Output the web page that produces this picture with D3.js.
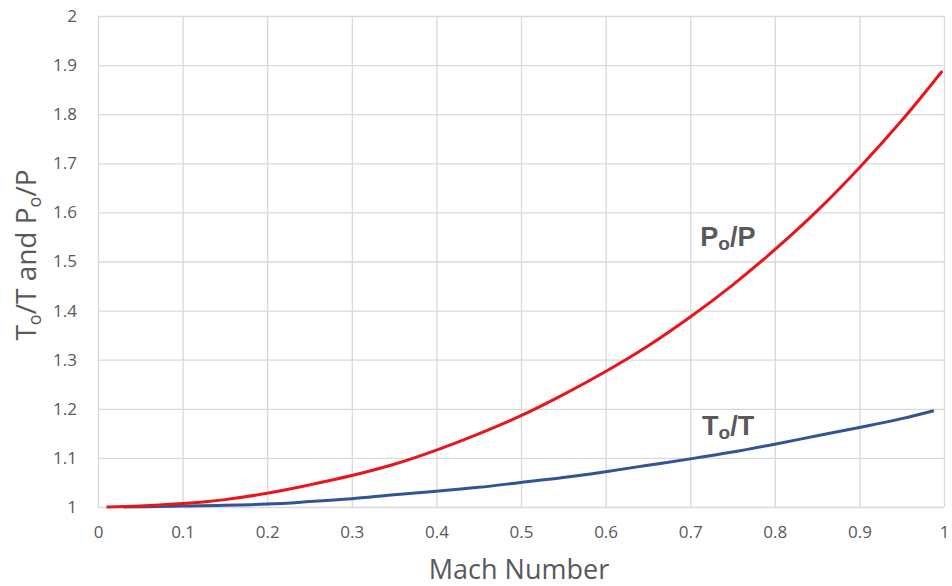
<!DOCTYPE html>
<html>
<head>
<meta charset="utf-8">
<script src="https://cdn.jsdelivr.net/npm/d3@7"></script>
<style>
  body { margin: 0; background: #fff; }
  svg text { fill: #595959; }
</style>
</head>
<body>
<svg id="chart" width="952" height="586"></svg>
<script>
// data
var machPress = [0.01, 0.05, 0.1, 0.13, 0.15, 0.2, 0.25, 0.3, 0.35, 0.4, 0.45, 0.5, 0.55, 0.6, 0.65, 0.7, 0.75, 0.8, 0.85, 0.9, 0.95, 0.998];
var pressRatio = [1.0, 1.002, 1.007, 1.011, 1.015, 1.028, 1.045, 1.064, 1.087, 1.116, 1.149, 1.186, 1.229, 1.276, 1.328, 1.387, 1.452, 1.524, 1.603, 1.691, 1.787, 1.888];
var machTemp = [0.03, 0.1, 0.2, 0.25, 0.3, 0.35, 0.4, 0.45, 0.5, 0.55, 0.6, 0.65, 0.7, 0.75, 0.8, 0.85, 0.9, 0.95, 0.988];
var tempRatio = [1.0, 1.002, 1.006, 1.011, 1.017, 1.025, 1.032, 1.04, 1.05, 1.06, 1.072, 1.085, 1.098, 1.112, 1.128, 1.145, 1.162, 1.18, 1.196];
var xTicks = [0, 0.1, 0.2, 0.3, 0.4, 0.5, 0.6, 0.7, 0.8, 0.9, 1];
var yTicks = [1, 1.1, 1.2, 1.3, 1.4, 1.5, 1.6, 1.7, 1.8, 1.9, 2];

var margin = { top: 16, right: 8, bottom: 79, left: 98 };
var width = 952 - margin.left - margin.right;
var height = 586 - margin.top - margin.bottom;

var svg = d3.select("#chart")
  .append("g")
  .attr("transform", "translate(" + margin.left + "," + margin.top + ")");

var x = d3.scaleLinear().domain([0, 1]).range([0, width]);
var y = d3.scaleLinear().domain([1, 2]).range([height, 0]);

// grid
svg.append("g")
  .call(d3.axisBottom(x).tickValues(xTicks).tickSize(-height).tickFormat(""))
  .attr("transform", "translate(0," + height + ")")
  .call(g => g.select(".domain").remove())
  .selectAll("line").attr("stroke", "#d9d9d9").attr("stroke-width", 1.3);

svg.append("g")
  .call(d3.axisLeft(y).tickValues(yTicks).tickSize(-width).tickFormat(""))
  .call(g => g.select(".domain").remove())
  .selectAll("line").attr("stroke", "#d9d9d9").attr("stroke-width", 1.3);

// tick labels
svg.append("g")
  .attr("transform", "translate(0," + height + ")")
  .call(d3.axisBottom(x).tickValues(xTicks).tickSize(0).tickPadding(19).tickFormat(d3.format("")))
  .call(g => g.select(".domain").remove())
  .selectAll("text")
  .style("font-family", "'Open Sans', sans-serif")
  .style("font-size", "17px");

svg.append("g")
  .call(d3.axisLeft(y).tickValues(yTicks).tickSize(0).tickPadding(21).tickFormat(d3.format("")))
  .call(g => g.select(".domain").remove())
  .selectAll("text")
  .style("font-family", "'Open Sans', sans-serif")
  .style("font-size", "17px");

// lines
var line = d3.line()
  .x(d => x(d[0]))
  .y(d => y(d[1]))
  .curve(d3.curveCatmullRom);

svg.append("path")
  .datum(d3.zip(machTemp, tempRatio))
  .attr("d", line)
  .attr("fill", "none")
  .attr("stroke", "#2f5597")
  .attr("stroke-width", 3);

svg.append("path")
  .datum(d3.zip(machPress, pressRatio))
  .attr("d", line)
  .attr("fill", "none")
  .attr("stroke", "#e8161b")
  .attr("stroke-width", 3);

// series labels
function ratioLabel(big, xv, yv) {
  var t = svg.append("text")
    .attr("x", x(xv))
    .attr("y", y(yv))
    .style("font-family", "'Liberation Sans', Arial, sans-serif")
    .style("font-weight", "bold")
    .style("font-size", "27px");
  t.append("tspan").text(big);
  t.append("tspan").text("o").style("font-size", "19px").attr("dy", 4);
  t.append("tspan").text("/" + big).attr("dy", -4);
}
ratioLabel("P", 0.712, 1.532);
ratioLabel("T", 0.714, 1.146);

// axis titles
svg.append("text")
  .attr("x", width / 2 - 2)
  .attr("y", height + 72)
  .attr("text-anchor", "middle")
  .style("font-family", "'Open Sans', sans-serif")
  .style("font-size", "27px")
  .text("Mach Number");

var yt = svg.append("text")
  .attr("transform", "translate(-62," + (255 - margin.top) + ") rotate(-90)")
  .attr("text-anchor", "middle")
  .style("font-family", "'Open Sans', sans-serif")
  .style("font-size", "28px");
yt.append("tspan").text("T");
yt.append("tspan").text("o").style("font-size", "18px").attr("dy", 5);
yt.append("tspan").text("/T and P").attr("dy", -5);
yt.append("tspan").text("o").style("font-size", "18px").attr("dy", 5);
yt.append("tspan").text("/P").attr("dy", -5);
</script>
</body>
</html>
